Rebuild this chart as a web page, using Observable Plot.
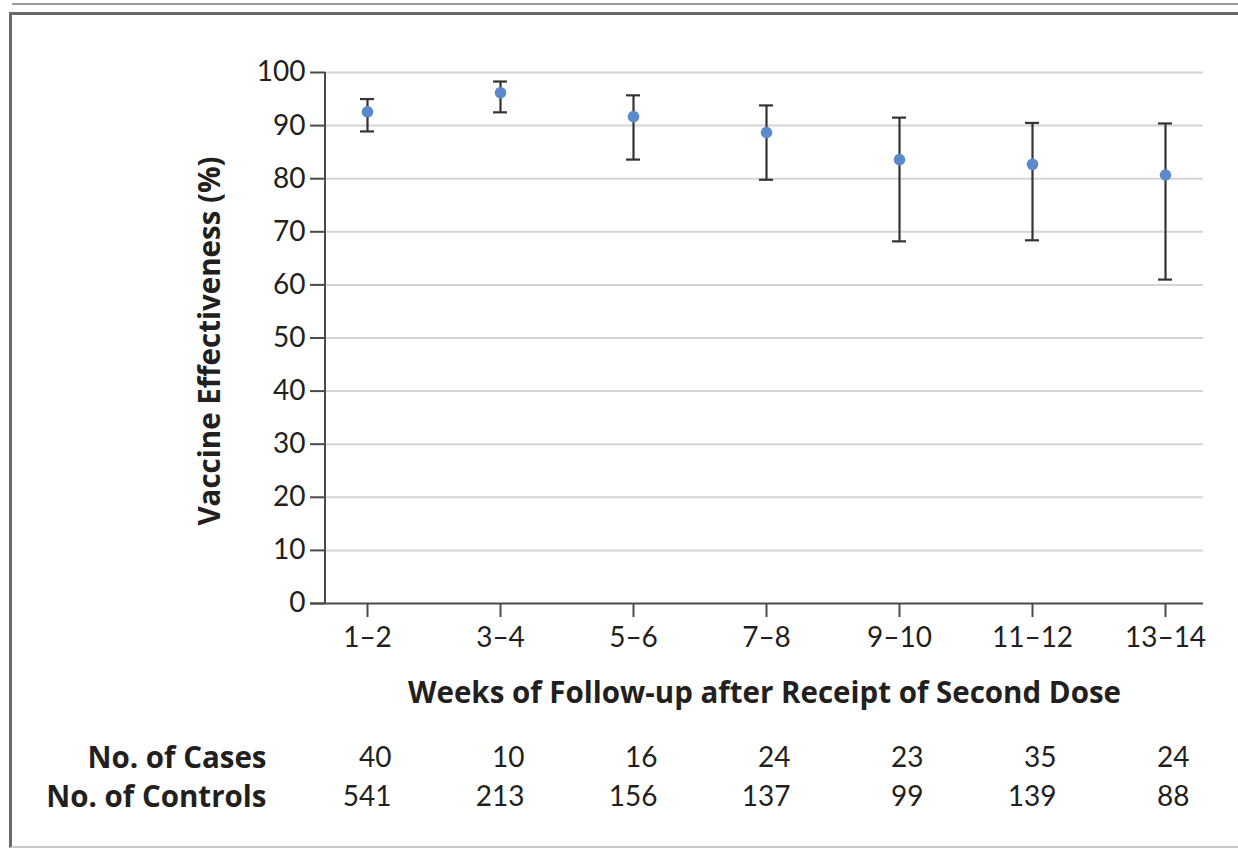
<!DOCTYPE html>
<html>
<head>
<meta charset="utf-8">
<script src="https://cdn.jsdelivr.net/npm/d3@7"></script>
<script src="https://cdn.jsdelivr.net/npm/@observablehq/plot@0.6"></script>
<style>
  html, body { margin: 0; padding: 0; background: #fff; }
  #wrap { position: relative; width: 1238px; height: 849px; overflow: hidden; }
  #topline { position: absolute; left: 12px; top: 3px; width: 1226px; height: 2px; background: #9c9c9c; }
  #box { position: absolute; left: 9px; top: 12px; width: 1240px; height: 831px;
         border-left: 3px solid #6a6a6a; border-top: 3px solid #6a6a6a; border-bottom: 2px solid #c8c8c8; }
  #chart { position: absolute; left: 0; top: 0; }
</style>
</head>
<body>
<div id="wrap">
  <div id="topline"></div>
  <div id="box"></div>
  <div id="chart"></div>
</div>
<script>
const weeks = ["1–2", "3–4", "5–6", "7–8", "9–10", "11–12", "13–14"];
const estimate = [92.6, 96.2, 91.7, 88.7, 83.6, 82.7, 80.7];
const lower = [88.9, 92.5, 83.6, 79.8, 68.2, 68.4, 61.0];
const upper = [95.0, 98.3, 95.7, 93.8, 91.5, 90.5, 90.4];
const cases = [40, 10, 16, 24, 23, 35, 24];
const controls = [541, 213, 156, 137, 99, 139, 88];
const yTicks = [0, 10, 20, 30, 40, 50, 60, 70, 80, 90, 100];
const yTitle = "Vaccine Effectiveness (%)";
const xTitle = "Weeks of Follow-up after Receipt of Second Dose";
const rowLabels = ["No. of Cases", "No. of Controls"];

const data = weeks.map((w, i) => ({week: w, est: estimate[i], lo: lower[i], hi: upper[i], cases: cases[i], controls: controls[i]}));

const axisColor = "#4a4a4a";
const textColor = "#231f20";
const boldFont = "'Open Sans', Lato, sans-serif";
const boldSize = 29.5;

const yAxisLine = (index, scales, values, dims) => {
  const x = dims.marginLeft;
  return d3.create("svg:line")
    .attr("x1", x).attr("x2", x)
    .attr("y1", scales.y(100)).attr("y2", scales.y(0))
    .attr("stroke", axisColor).attr("stroke-width", 2).node();
};

const chart = Plot.plot({
  width: 1238,
  height: 849,
  marginLeft: 325,
  marginRight: 35,
  marginTop: 72,
  marginBottom: 246,
  style: {fontFamily: "Lato, 'Open Sans', sans-serif", fontSize: "28px", color: textColor, background: "transparent", overflow: "visible"},
  x: {type: "point", domain: weeks, padding: 0.3, align: 0.53},
  y: {domain: [0, 100]},
  marks: [
    Plot.gridY(yTicks.filter(d => d > 0), {stroke: "#d4d4d4", strokeOpacity: 1, strokeWidth: 2}),
    Plot.axisY({ticks: yTicks, tickSize: 15, tickPadding: 5, label: null, stroke: axisColor, strokeWidth: 2, fill: textColor, fontSize: 28}),
    Plot.axisX({tickSize: 14, tickPadding: 10, label: null, stroke: axisColor, strokeWidth: 2, fill: textColor, fontSize: 28}),
    Plot.ruleY([0], {stroke: axisColor, strokeWidth: 2, insetLeft: -15}),
    yAxisLine,
    Plot.ruleX(data, {x: "week", y1: "lo", y2: "hi", stroke: "#333", strokeWidth: 2.2}),
    Plot.ruleY(data, {x1: "week", x2: "week", y: "lo", stroke: "#333", strokeWidth: 2.2, insetLeft: -7, insetRight: -7}),
    Plot.ruleY(data, {x1: "week", x2: "week", y: "hi", stroke: "#333", strokeWidth: 2.2, insetLeft: -7, insetRight: -7}),
    Plot.dot(data, {x: "week", y: "est", r: 5.8, fill: "#5a8acb", stroke: "none"}),
    Plot.text([yTitle], {frameAnchor: "left", dx: -115, dy: 3, rotate: -90, textAnchor: "middle", lineAnchor: "middle", fontFamily: boldFont, fontWeight: "bold", fontSize: boldSize, fill: textColor}),
    Plot.text([xTitle], {frameAnchor: "bottom", dy: 90, lineAnchor: "middle", fontFamily: boldFont, fontWeight: "bold", fontSize: boldSize, fill: textColor}),
    Plot.text([rowLabels[0]], {frameAnchor: "bottom-left", dx: -59, dy: 155, textAnchor: "end", lineAnchor: "middle", fontFamily: boldFont, fontWeight: "bold", fontSize: boldSize, fill: textColor}),
    Plot.text([rowLabels[1]], {frameAnchor: "bottom-left", dx: -59, dy: 194, textAnchor: "end", lineAnchor: "middle", fontFamily: boldFont, fontWeight: "bold", fontSize: boldSize, fill: textColor}),
    Plot.text(data, {x: "week", text: "cases", frameAnchor: "bottom", dy: 155, dx: 24, textAnchor: "end", lineAnchor: "middle", fontSize: 28, fill: textColor}),
    Plot.text(data, {x: "week", text: "controls", frameAnchor: "bottom", dy: 194, dx: 24, textAnchor: "end", lineAnchor: "middle", fontSize: 28, fill: textColor})
  ]
});
document.getElementById("chart").appendChild(chart);
</script>
</body>
</html>
